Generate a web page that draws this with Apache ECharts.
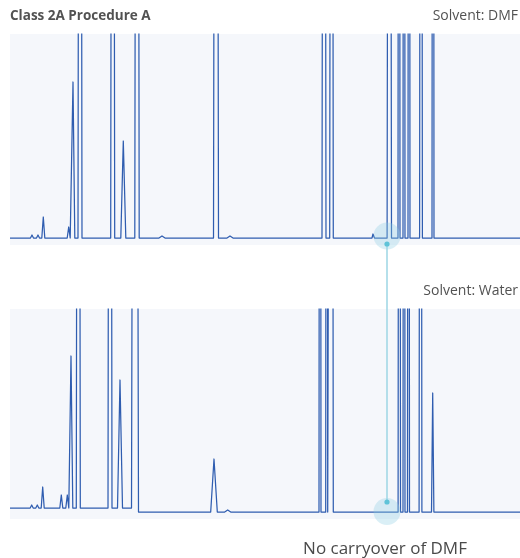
<!DOCTYPE html>
<html>
<head>
<meta charset="utf-8">
<title>Class 2A Procedure A – carryover check</title>
<script src="https://cdn.jsdelivr.net/npm/echarts@6/dist/echarts.min.js"></script>
<style>
  html, body { margin: 0; padding: 0; background: #ffffff; }
  #chart { width: 520px; height: 558px; }
</style>
</head>
<body>
<div id="chart"></div>
<script>
// Retention-time window of both runs (min)
const timeRange = [0, 51];

// Run 1: sample dissolved in DMF — peak retention times (min), heights (signal units), half base widths (min)
// Heights of 1500 are peaks that go far off the top of the plot.
const dmfTimes   = [2.20, 2.80, 3.33, 5.87, 6.30, 7.00, 10.27, 11.33, 12.70, 15.20, 20.60, 22.00, 31.40, 32.15, 36.00, 36.30, 37.93, 38.90, 39.40, 39.90, 41.10, 42.30, 44.20];
const dmfHeights = [3,    3,    21,   11,   156,  1500, 1500,  97,    1500,  2,     1500,  2,     1500,  1500,  2,     4,     1500,  1500,  1500,  1500,  1500,  1500,  2];
const dmfWidths  = [0.15, 0.15, 0.15, 0.15, 0.18, 0.20, 0.20,  0.25,  0.22,  0.30,  0.25,  0.30,  0.20,  0.18,  0.20,  0.15,  0.22,  0.10,  0.10,  0.10,  0.14,  0.10,  0.20];

// Run 2: blank injection of water after the DMF run
const waterTimes   = [2.17, 2.73, 3.27, 5.13, 5.73, 6.10, 6.83, 10.00, 11.00, 12.50, 20.40, 21.77, 31.00, 31.67, 32.15, 38.93, 39.40, 39.85, 41.05, 42.27];
const waterHeights = [3,    3,    21,   13,   13,   152,  1500, 1500,  128,   1500,  53,    2,     1500,  1500,  1500,  1500,  1500,  1500,  1500,  119];
const waterWidths  = [0.15, 0.15, 0.15, 0.15, 0.15, 0.18, 0.20, 0.20,  0.25,  0.35,  0.33,  0.30,  0.10,  0.10,  0.18,  0.12,  0.10,  0.10,  0.14,  0.12];
// Baseline level of the water run before / after the solvent front drift
const waterBaseLevels = [0, -4];
const waterBaseShiftAt = 12.6;

// Where DMF elutes — the point compared between the two runs
const dmfMarkerTime = 37.7;

const LINE_COLOR = '#2f5db0';
const PANEL_BG = '#f5f7fb';
const TEXT_COLOR = '#525252';

// Build a trace (peak start, apex, end) from a peak table.
function buildTrace(times, heights, widths, baseAt) {
  const pts = [[timeRange[0], baseAt(timeRange[0])]];
  for (let i = 0; i < times.length; i++) {
    const t = times[i], w = widths[i];
    pts.push([t - w, baseAt(t - w)]);
    pts.push([t, baseAt(t) + heights[i]]);
    pts.push([t + w, baseAt(t + w)]);
  }
  pts.push([timeRange[1], baseAt(timeRange[1])]);
  return pts;
}

const dmfTrace = buildTrace(dmfTimes, dmfHeights, dmfWidths, () => 0);
const waterTrace = buildTrace(waterTimes, waterHeights, waterWidths,
  t => (t < waterBaseShiftAt ? waterBaseLevels[0] : waterBaseLevels[1]));

const chart = echarts.init(document.getElementById('chart'), null, { renderer: 'canvas' });

const hiddenAxis = { show: false };

chart.setOption({
  animation: false,
  backgroundColor: '#ffffff',
  grid: [
    { left: 10, right: 0, top: 34, height: 211, show: true, backgroundColor: PANEL_BG, borderWidth: 0 },
    { left: 10, right: 0, top: 309, height: 210, show: true, backgroundColor: PANEL_BG, borderWidth: 0 }
  ],
  xAxis: [
    Object.assign({ type: 'value', gridIndex: 0, min: timeRange[0], max: timeRange[1] }, hiddenAxis),
    Object.assign({ type: 'value', gridIndex: 1, min: timeRange[0], max: timeRange[1] }, hiddenAxis)
  ],
  yAxis: [
    Object.assign({ type: 'value', gridIndex: 0, min: -7, max: 204 }, hiddenAxis),
    Object.assign({ type: 'value', gridIndex: 1, min: -11, max: 199 }, hiddenAxis)
  ],
  series: [
    {
      name: 'Solvent: DMF', type: 'line', xAxisIndex: 0, yAxisIndex: 0,
      data: dmfTrace, showSymbol: false, clip: true, z: 2,
      lineStyle: { color: LINE_COLOR, width: 1.25, join: 'round' }
    },
    {
      name: 'Solvent: Water', type: 'line', xAxisIndex: 1, yAxisIndex: 1,
      data: waterTrace, showSymbol: false, clip: true, z: 2,
      lineStyle: { color: LINE_COLOR, width: 1.25, join: 'round' }
    }
  ]
});

// Connector between the DMF position in both runs, placed through the axes' scales.
const haloTop = chart.convertToPixel({ gridIndex: 0 }, [dmfMarkerTime, 2]);
const dotTop = chart.convertToPixel({ gridIndex: 0 }, [dmfMarkerTime, -6]);
const haloBottom = chart.convertToPixel({ gridIndex: 1 }, [dmfMarkerTime, waterBaseLevels[1] + 0.5]);
const dotBottom = chart.convertToPixel({ gridIndex: 1 }, [dmfMarkerTime, waterBaseLevels[1] + 10]);

chart.setOption({
  graphic: [
    { type: 'circle', shape: { cx: haloTop[0], cy: haloTop[1], r: 13.5 },
      style: { fill: 'rgba(140, 205, 228, 0.32)' }, z: 5 },
    { type: 'circle', shape: { cx: haloBottom[0], cy: haloBottom[1], r: 13.5 },
      style: { fill: 'rgba(140, 205, 228, 0.32)' }, z: 5 },
    { type: 'line', shape: { x1: dotTop[0], y1: dotTop[1], x2: dotBottom[0], y2: dotBottom[1] },
      style: { stroke: '#9cd6e4', lineWidth: 1.5 }, z: 6 },
    { type: 'circle', shape: { cx: dotTop[0], cy: dotTop[1], r: 2.6 },
      style: { fill: '#5ec3d8' }, z: 7 },
    { type: 'circle', shape: { cx: dotBottom[0], cy: dotBottom[1], r: 2.6 },
      style: { fill: '#5ec3d8' }, z: 7 },
    { type: 'text', x: 10, y: 16.5, z: 10,
      style: { text: 'Class 2A Procedure A', fill: TEXT_COLOR, font: 'bold 13.5px "Open Sans", sans-serif',
               align: 'left', verticalAlign: 'middle' } },
    { type: 'text', x: 518, y: 16.5, z: 10,
      style: { text: 'Solvent: DMF', fill: TEXT_COLOR, font: '14px "Open Sans", sans-serif',
               align: 'right', verticalAlign: 'middle' } },
    { type: 'text', x: 518, y: 291.5, z: 10,
      style: { text: 'Solvent: Water', fill: TEXT_COLOR, font: '14px "Open Sans", sans-serif',
               align: 'right', verticalAlign: 'middle' } },
    { type: 'text', x: 385, y: 549, z: 10,
      style: { text: 'No carryover of DMF', fill: '#4a4a4a', font: '17px "Open Sans", sans-serif',
               align: 'center', verticalAlign: 'middle' } }
  ]
});
</script>
</body>
</html>
